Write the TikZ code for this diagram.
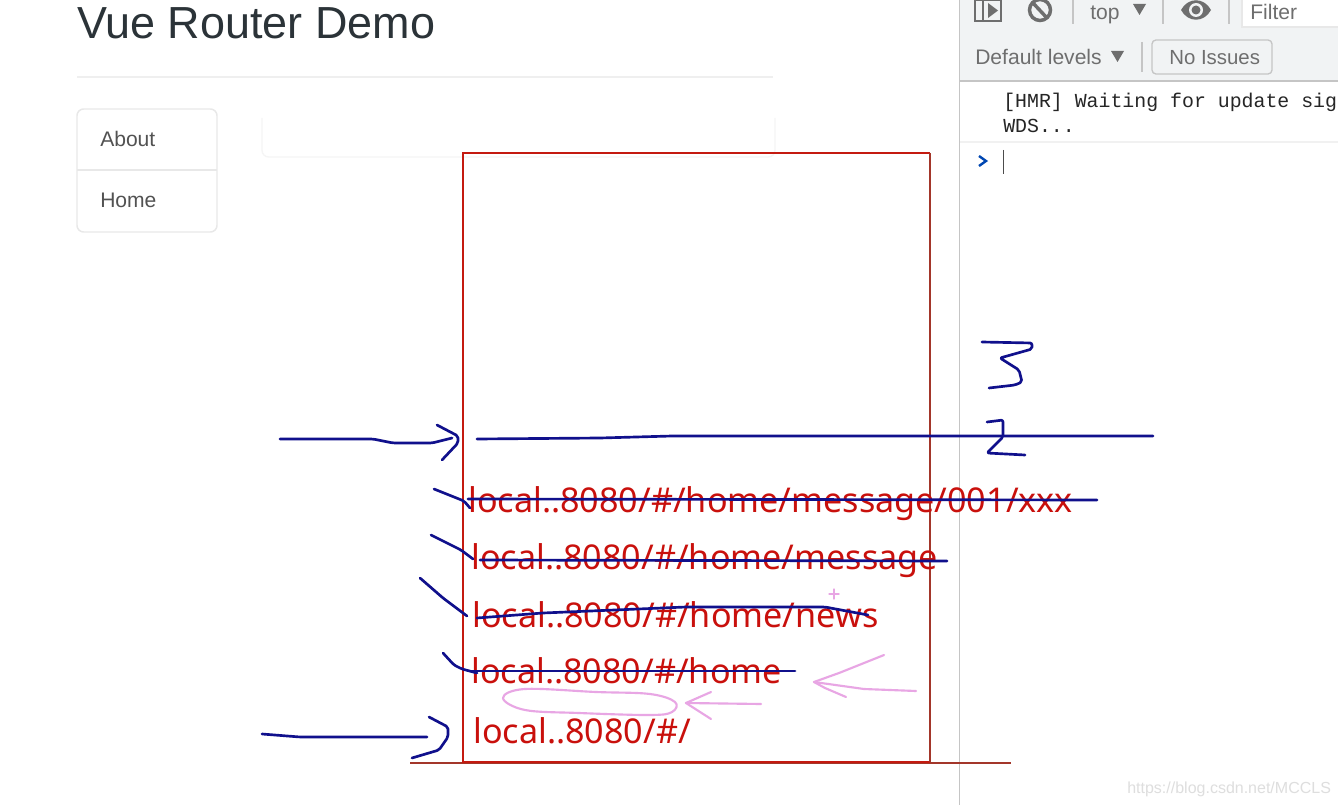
\documentclass[tikz,border=0pt]{standalone}
\usepackage{fontspec}
\setmainfont{Liberation Sans}
\newfontfamily\yahei{Noto Sans}
\newfontfamily\consola{Liberation Mono}
\definecolor{redink}{HTML}{C9100C}
\definecolor{redline}{HTML}{C41A10}
\definecolor{brownline}{HTML}{A3362A}
\definecolor{blueink}{HTML}{10108C}
\definecolor{pinkink}{HTML}{E8A6E4}
\definecolor{toolbar}{HTML}{F1F3F4}
\definecolor{rulegray}{HTML}{E8E8E8}
\definecolor{icongray}{HTML}{6E6E6E}
\definecolor{title}{HTML}{2B3338}
\tikzset{
  x=0.75pt,y=-0.75pt,
  blue stroke/.style={draw=blueink,line width=2pt,line join=round,line cap=round,rounded corners=1.5pt},
  pink stroke/.style={draw=pinkink,line width=1.6pt,line join=round,line cap=round},
  red text/.style={text=redink,anchor=base west,inner sep=0pt,font=\yahei\fontsize{25.6}{28}\selectfont},
  plain text/.style={anchor=base west,inner sep=0pt},
  tool text/.style={plain text,text=icongray,font=\fontsize{15.8}{20}\selectfont},
  sep/.style={draw=rulegray!85!black,line width=1.3pt},
}
\begin{document}
\begin{tikzpicture}
\useasboundingbox (0,0) rectangle (1338,805);
\clip (0,0) rectangle (1338,805);
\fill[white] (0,0) rectangle (1338,805);
% page
\node[plain text,text=title,font=\fontsize{33.7}{38}\selectfont] (heading) at (77,39) {Vue Router Demo};
\draw[rulegray!70!white,line width=1pt] (77,77) -- (773,77);
\draw[rulegray,line width=1.1pt,rounded corners=5pt] (77,109) rectangle (217,232);
\draw[rulegray,line width=1.1pt] (77,170) -- (217,170);
\node[plain text,text=black!68,font=\fontsize{15.8}{18}\selectfont] (about) at (100,147) {About};
\node[plain text,text=black!68,font=\fontsize{15.8}{18}\selectfont] (home) at (100,208) {Home};
\draw[rulegray!45!white,line width=1pt,rounded corners=5pt] (262,118) -- (262,157) -- (775,157) -- (775,118);
% devtools
\fill[toolbar] (960,0) rectangle (1338,80);
\draw[rulegray!85!black,line width=1.2pt] (959.5,0) -- (959.5,805);
\draw[rulegray!85!black,line width=1.2pt] (960,81) -- (1338,81);
\draw[icongray,line width=1.4pt] (975,0) rectangle (1001,21) (983,0) -- (983,21);
\fill[icongray] (988,3) -- (998,10.5) -- (988,18) -- cycle;
\draw[icongray,line width=2.6pt] (1040,10) circle (10.5);
\draw[icongray,line width=2.6pt] (1033,3) -- (1047,18);
\draw[sep] (1073,0) -- (1073,24) (1163,0) -- (1163,24) (1229,0) -- (1229,24) (1142,42) -- (1142,72);
\node[tool text] (top) at (1090,20) {top};
\fill[icongray] (1133,4) -- (1146,4) -- (1139.5,15) -- cycle;
\fill[icongray] (1181,10) .. controls (1188,-3) and (1204,-3) .. (1211,10) .. controls (1204,23) and (1188,23) .. (1181,10) -- cycle;
\fill[toolbar] (1196,10) circle (7);
\fill[icongray] (1196,10) circle (4.5);
\draw[rulegray,line width=1pt,fill=white] (1242,-5) -- (1242,27) -- (1345,27) -- (1345,-5) -- cycle;
\node[tool text] (filter) at (1250,20) {Filter};
\node[tool text] (levels) at (975,65) {Default levels};
\fill[icongray] (1111,51) -- (1124,51) -- (1117.5,62) -- cycle;
\draw[rulegray!85!black,line width=1pt,rounded corners=3pt] (1152,40) rectangle (1272,74);
\node[tool text,font=\fontsize{15.3}{20}\selectfont] (issues) at (1169,65) {No Issues};
\node[plain text,text=black!85,font=\consola\fontsize{14.9}{18}\selectfont] (hmr) at (1003,107.5) {[HMR] Waiting for update sig};
\node[plain text,text=black!85,font=\consola\fontsize{14.9}{18}\selectfont] (wds) at (1003,132.5) {WDS...};
\draw[rulegray!60!white,line width=1pt] (960,142) -- (1338,142);
\draw[blue!60!cyan!70!black,line width=1.8pt] (979,156) -- (986,161) -- (979,166);
\draw[black!70,line width=1.3pt] (1003.5,150) -- (1003.5,174);
% red box
\draw[brownline,line width=1.7pt] (410,763) -- (1011,763);
\draw[redline,line width=2pt] (930,762) -- (463,762) -- (463,153) -- (930,153);
\draw[brownline,line width=2pt] (930,153) -- (930,762);
% red text
\node[red text] (u1) at (468,512) {local..8080/\#/home/message/001/xxx};
\node[red text] (u2) at (471,569) {local..8080/\#/home/message};
\node[red text] (u3) at (472,627.5) {local..8080/\#/home/news};
\node[red text] (u4) at (471,683) {local..8080/\#/home};
\node[red text] (u5) at (473,743) {local..8080/\#/};
% blue strokes
\draw[blue stroke] (280,439) -- (373,439) -- (393,443) -- (432,443) -- (452,438);
\draw[blue stroke] (437,425) -- (458,436) -- (458,443) -- (442,460);
\draw[blue stroke] (477,439) -- (600,438) -- (672,436) -- (1153,436);
\draw[blue stroke] (434,489) -- (464,501) -- (470,508);
\draw[blue stroke] (468,499) -- (1097,500);
\draw[blue stroke] (431,535) -- (461,550) -- (473,559);
\draw[blue stroke] (480,560) -- (947,561);
\draw[blue stroke] (420,578) -- (443,598) -- (467,616);
\draw[blue stroke] (477,618) -- (543,613) -- (686,607) -- (825,607) -- (868,615);
\draw[blue stroke] (443,653) -- (454,665) -- (462,669) -- (477,673);
\draw[blue stroke] (471,671) -- (795,671);
\draw[blue stroke] (262,734) -- (300,737) -- (427,737);
\draw[blue stroke] (429,717) -- (448,727) -- (448,737) -- (439,750) -- (412,758);
% digits
\draw[blue stroke] (982,342) -- (1032,343) -- (1032,349) -- (1000,358) -- (1019,370) -- (1022,382) -- (1015,385) -- (989,388);
\draw[blue stroke] (987,422) -- (1003,420) -- (1003,437) -- (987,453) -- (1025,455);
% pink
\draw[pink stroke] (916,691) -- (864,689) -- (814,682);
\draw[pink stroke] (884,655) -- (839,673) -- (814,682) -- (825,688) -- (846,697);
\draw[pink stroke] (761,704) -- (686,703);
\draw[pink stroke] (711,692) -- (686,703) -- (711,719);
\draw[pink stroke] plot[smooth cycle,tension=0.6] coordinates {(503,698) (525,689) (596,692) (650,694) (675,702) (672,712) (650,715) (579,713) (525,710)};
\draw[pink stroke,line width=1pt] (829,594) -- (839,594) (834,589) -- (834,599);
% watermark
\node[plain text,text=black!13,font=\fontsize{12}{14}\selectfont] (mark) at (1127,793) {https://blog.csdn.net/MCCLS};
\end{tikzpicture}
\end{document}
